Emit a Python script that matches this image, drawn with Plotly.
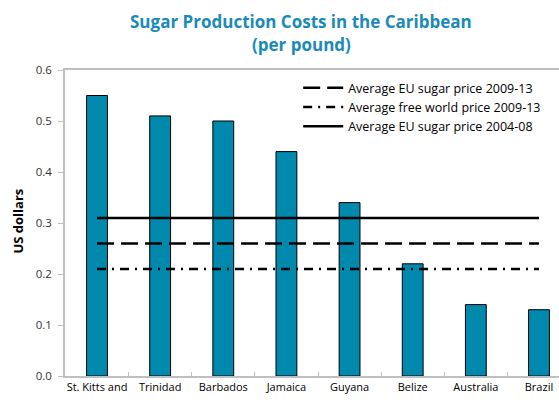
import plotly.graph_objects as go

categories = ["St. Kitts and", "Trinidad", "Barbados", "Jamaica", "Guyana", "Belize", "Australia", "Brazil"]
costs = [0.55, 0.51, 0.50, 0.44, 0.34, 0.22, 0.14, 0.13]
eu_2009_13 = [0.26] * 8
free_world_2009_13 = [0.21] * 8
eu_2004_08 = [0.31] * 8
y_ticks = [0.0, 0.1, 0.2, 0.3, 0.4, 0.5, 0.6]

FONT = "Open Sans"
fig = go.Figure()
fig.add_trace(go.Bar(x=categories, y=costs, width=0.33, marker=dict(color="#0089AD", line=dict(color="#000000", width=1)),
                     showlegend=False, name="Cost"))
fig.add_trace(go.Scatter(x=categories, y=eu_2009_13, mode="lines", name="Average EU sugar price 2009-13",
                         line=dict(color="black", width=2.5, dash="17px,7px")))
fig.add_trace(go.Scatter(x=categories, y=free_world_2009_13, mode="lines", name="Average free world price 2009-13",
                         line=dict(color="black", width=2.5, dash="9px,6px,2px,6px")))
fig.add_trace(go.Scatter(x=categories, y=eu_2004_08, mode="lines", name="Average EU sugar price 2004-08",
                         line=dict(color="black", width=2.5)))

fig.update_layout(
    width=559, height=402,
    margin=dict(l=65, r=0, t=70, b=26),
    paper_bgcolor="white", plot_bgcolor="white",
    font=dict(family=FONT, size=12, color="#333333"),
    showlegend=True,
    legend=dict(x=0.472, y=0.99, xanchor="left", yanchor="top", bgcolor="rgba(0,0,0,0)",
                font=dict(family=FONT, size=12.5, color="#000000"), tracegroupgap=0, itemwidth=40),
    xaxis=dict(type="category", range=[-0.507, 7.317], showline=True, linecolor="#BFBFBF", linewidth=1.5,
               mirror=True, ticks="inside", tickson="boundaries", ticklen=4, tickcolor="#BFBFBF",
               showgrid=False, tickangle=0, automargin=False, ticklabeloverflow="allow",
               tickfont=dict(family=FONT, size=11, color="#000000")),
    yaxis=dict(range=[0, 0.6], tickvals=y_ticks, tickformat=".1f", showline=True, linecolor="#BFBFBF", linewidth=1.5,
               ticks="outside", ticklen=5, tickcolor="#BFBFBF", showgrid=False, zeroline=False,
               automargin=False, ticklabelstandoff=4,
               tickfont=dict(family=FONT, size=11.5, color="#333333")),
    annotations=[
        dict(text="<b>Sugar Production Costs in the Caribbean</b>", xref="paper", yref="paper",
             x=0.478, y=1.157, xanchor="center", yanchor="middle", showarrow=False,
             font=dict(family=FONT, size=17, color="#1A8AB8")),
        dict(text="<b>(per pound)</b>", xref="paper", yref="paper",
             x=0.478, y=1.082, xanchor="center", yanchor="middle", showarrow=False,
             font=dict(family=FONT, size=17, color="#1A8AB8")),
        dict(text="<b>US dollars</b>", xref="paper", yref="paper",
             x=-0.095, y=0.505, xanchor="center", yanchor="middle", showarrow=False, textangle=-90,
             font=dict(family=FONT, size=13, color="#000000")),
    ],
)
fig.write_html("out.html", config={"displayModeBar": False},
               post_script="document.body.style.margin='0px';document.body.style.overflow='hidden';")
